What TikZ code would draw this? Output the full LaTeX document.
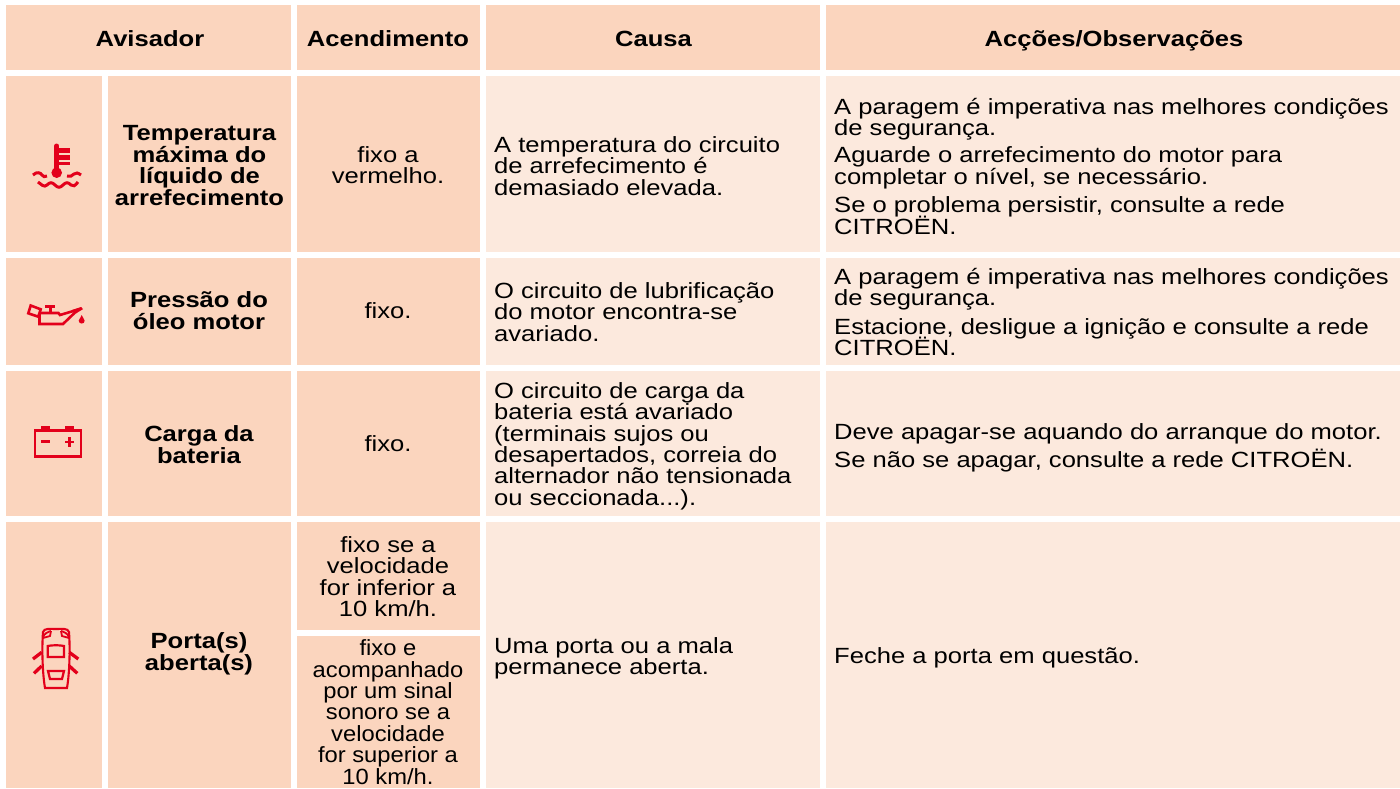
\documentclass[tikz,border=0pt]{standalone}
\usepackage{fontspec}
\setmainfont{Liberation Sans}[FakeStretch=1.163]
\newfontfamily\narrowfam{Liberation Sans}[FakeStretch=1.08]
\definecolor{dark}{HTML}{FBD5BE}
\definecolor{light}{HTML}{FCE9DD}
\definecolor{icon}{HTML}{E3001B}
\newcommand{\fs}[1]{\fontsize{22}{#1}\selectfont\lineskiplimit=-50pt\relax}
\tikzset{
 x=1pt,y=-1pt,
 darkcell/.style={fill=dark,draw=none},
 lightcell/.style={fill=light,draw=none},
 ttxt/.style={font=\fs{21.4},align=center,inner sep=0pt,text=black},
 ttxtn/.style={font=\narrowfam\fs{21.4},align=center,inner sep=0pt,text=black},
 hdr/.style={font=\fs{22}\bfseries,align=center,inner sep=0pt,anchor=base},
 lab/.style={font=\fs{21.8}\bfseries,align=center,inner sep=0pt},
 bod/.style={font=\fs{21.4},align=left,anchor=west,inner sep=0pt},
 ic/.style={draw=icon,line width=2.6pt,fill=none},
}
\newcommand{\cell}[5]{\fill[#1] (#2,#3) rectangle (#4,#5);}
\begin{document}
\begin{tikzpicture}
\useasboundingbox (0,0) rectangle (1400,788);
\fill[white] (0,0) rectangle (1400,788);
% header
\cell{darkcell}{6}{5}{291}{70}
\cell{darkcell}{297}{5}{480}{70}
\cell{darkcell}{486}{5}{820}{70}
\cell{darkcell}{826}{5}{1400}{70}
% rows
\foreach \a/\b in {76/252,258/365,371/516,522/788}{
 \cell{darkcell}{6}{\a}{102}{\b}
 \cell{darkcell}{108}{\a}{291}{\b}
 \cell{lightcell}{486}{\a}{820}{\b}
 \cell{lightcell}{826}{\a}{1400}{\b}
}
\foreach \a/\b in {76/252,258/365,371/516,522/630,636/788}{
 \cell{darkcell}{297}{\a}{480}{\b}
}
% header text
\node[hdr] (h1) at (150,46.5) {Avisador};
\node[hdr] (h2) at (388,46.5) {Acendimento};
\node[hdr] (h3) at (653.5,46.5) {Causa};
\node[hdr] (h4) at (1114,46.5) {Acções/Observações};
% labels
\node[lab] (l1) at (199.5,165.5) {Temperatura\\máxima do\\líquido de\\arrefecimento};
\node[lab] (l2) at (199,311) {Pressão do\\óleo motor};
\node[lab] (l3) at (199,445) {Carga da\\bateria};
\node[lab] (l4) at (199,654) {Porta(s)\\aberta(s)};
% acendimento
\node[ttxt] (a1) at (388,165) {fixo a\\vermelho.};
\node[ttxt] (a2) at (388,311) {fixo.};
\node[ttxt] (a3) at (388,444) {fixo.};
\node[ttxt] (a4) at (388,576.5) {fixo se a\\velocidade\\for inferior a\\10 km/h.};
\node[ttxtn] (a5) at (388,712) {fixo e\\acompanhado\\por um sinal\\sonoro se a\\velocidade\\for superior a\\10 km/h.};
% causa
\node[bod] (c1) at (494,166) {A temperatura do circuito\\de arrefecimento é\\demasiado elevada.};
\node[bod] (c2) at (494,312) {O circuito de lubrificação\\do motor encontra-se\\avariado.};
\node[bod] (c3) at (494,446) {O circuito de carga da\\bateria está avariado\\(terminais sujos ou\\desapertados, correia do\\alternador não tensionada\\ou seccionada...).};
\node[bod] (c4) at (494,658.5) {Uma porta ou a mala\\permanece aberta.};
% accoes
\node[bod] (o1) at (834,119) {A paragem é imperativa nas melhores condições\\de segurança.};
\node[bod] (o2) at (834,168) {Aguarde o arrefecimento do motor para\\completar o nível, se necessário.};
\node[bod] (o3) at (834,215.5) {Se o problema persistir, consulte a rede\\CITROËN.};
\node[bod] (o4) at (834,289) {A paragem é imperativa nas melhores condições\\de segurança.};
\node[bod] (o5) at (834,337) {Estacione, desligue a ignição e consulte a rede\\CITROËN.};
\node[bod] (o6) at (834,433.5) {Deve apagar-se aquando do arranque do motor.};
\node[bod] (o7) at (834,460.5) {Se não se apagar, consulte a rede CITROËN.};
\node[bod] (o8) at (834,658) {Feche a porta em questão.};
% thermometer icon
\draw[icon,line width=5pt,line cap=round] (56.7,146) -- (56.7,172);
\fill[icon] (56.7,172.7) circle (5.3);
\fill[icon] (57,148) rectangle (70,152.7);
\fill[icon] (57,155) rectangle (70,160);
\fill[icon] (57,161.7) rectangle (70,165);
\draw[ic,line width=3pt] (33,175) .. controls (37,171) and (41,173) .. (42,175) .. controls (43,177) and (45,177) .. (47,176);
\draw[ic,line width=3pt] (67,176) .. controls (70,177) and (72,176) .. (74,174) .. controls (76,172) and (78,173) .. (81,175);
\draw[ic,line width=3pt] (38,182) .. controls (41,184) and (44,188) .. (47,185) .. controls (50,182) and (52,182) .. (55,185) .. controls (58,188) and (60,188) .. (63,185) .. controls (66,182) and (68,182) .. (71,185) .. controls (73,187) and (75,186) .. (78,182);
% oil can icon
\draw[ic] (39.5,313) -- (39.5,324) -- (63,324) -- (75,312.5);
\draw[ic] (39.5,313) -- (58.5,313) -- (60,315) -- (75,310.5) -- (82,308.5);
\draw[ic] (28.3,313.3) -- (30.7,305.5) -- (40.7,309.3) -- (38.3,316.7) -- cycle;
\fill[icon] (49.3,305) rectangle (51.5,313);
\fill[icon] (45,304.5) rectangle (55,307.5);
\fill[icon] (72,310) -- (81,307) -- (83,309) -- (76,313.5) -- cycle;
\fill[icon] (81.7,315) .. controls (81,318) and (78.7,319) .. (78.7,320.7) .. controls (78.7,324.5) and (84.7,324.5) .. (84.7,320.7) .. controls (84.7,319) and (82.4,318) .. (81.7,315) -- cycle;
% battery icon
\draw[ic,line width=2.4pt] (35.2,430.4) rectangle (80.8,456.6);
\fill[icon] (40.7,425.7) rectangle (50,430);
\fill[icon] (65.3,425.7) rectangle (74.3,430);
\fill[icon] (40.7,440.3) rectangle (50,443);
\fill[icon] (65.3,440.5) rectangle (74.3,443.2);
\fill[icon] (68.4,436.7) rectangle (71.1,446.7);
% car icon
\draw[ic,line width=2.1pt] (45,688) .. controls (42,670) and (42,645) .. (43,632) .. controls (44,628) and (50,629) .. (56,629) .. controls (62,629) and (68,628) .. (69,632) .. controls (70,645) and (70,670) .. (67,688) -- cycle;
\draw[ic,line width=1.8pt] (43,638) .. controls (44,633) and (48,632) .. (51,631);
\draw[ic,line width=1.8pt] (43,638) -- (50,636) -- (51,631);
\draw[ic,line width=1.8pt] (69,638) .. controls (68,633) and (64,632) .. (61,631);
\draw[ic,line width=1.8pt] (69,638) -- (62,636) -- (61,631);
\draw[ic,line width=2.2pt] (47.7,646) .. controls (52,645) and (60,645) .. (64,646) -- (64,657) -- (47.7,657) -- cycle;
\draw[ic,line width=2.2pt] (48,671) -- (64,671) -- (62,679) -- (50,679) -- cycle;
\draw[icon,line width=3.3pt] (41.7,652.3) -- (33,659);
\draw[icon,line width=3.3pt] (41.7,666) -- (34,673.3);
\draw[icon,line width=3.3pt] (69.3,652.3) -- (78.3,659);
\draw[icon,line width=3.3pt] (69.3,666) -- (77.3,673.3);
\end{tikzpicture}
\end{document}
